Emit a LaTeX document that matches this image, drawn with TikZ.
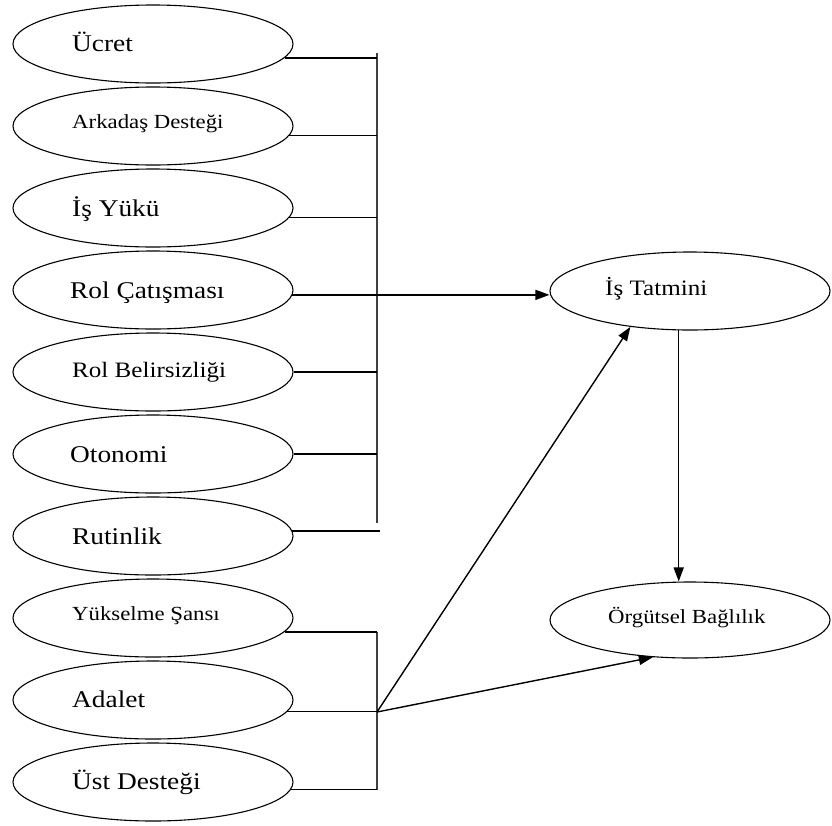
\documentclass[tikz,border=0pt]{standalone}
\usepackage{fontspec}
\newfontfamily\tf[FakeStretch=1.14]{Liberation Serif}
\usetikzlibrary{shapes.geometric,arrows.meta}
\begin{document}
\begin{tikzpicture}[x=1pt,y=-1pt,
  oval/.style={draw=black,line width=1.1pt,ellipse,minimum width=280pt,minimum height=78pt,inner sep=0pt},
  lbl/.style={anchor=base west,inner sep=0pt,font=\tf},
  bigt/.style={lbl,font=\tf\fontsize{24}{28}\selectfont},
  midt/.style={lbl,font=\tf\fontsize{22}{26}\selectfont},
  smallt/.style={lbl,font=\tf\fontsize{20}{24}\selectfont},
  conn/.style={draw=black,line width=1.4pt},
  bar/.style={draw=black!75,line width=1.1pt},
  arr/.style={conn,-{Triangle[length=14pt,width=10pt]}}]
\useasboundingbox (0,0) rectangle (832,825);
% left ellipses
\node[oval] (e1) at (153,44) {};
\node[oval] (e2) at (153,126) {};
\node[oval] (e3) at (153,208) {};
\node[oval] (e4) at (153,290) {};
\node[oval] (e5) at (153,372) {};
\node[oval] (e6) at (153,454) {};
\node[oval] (e7) at (153,536) {};
\node[oval] (e8) at (153,618) {};
\node[oval] (e9) at (153,700) {};
\node[oval] (e10) at (153,782) {};
% right ellipses
\node[oval] (ist) at (690,291) {};
\node[oval,minimum height=76pt] (ob) at (690,620) {};
% texts
\node[bigt] (t1) at (72,51) {Ücret};
\node[smallt] (t2) at (72,128) {Arkadaş Desteği};
\node[bigt] (t3) at (72,216) {İş Yükü};
\node[bigt] (t4) at (70,298) {Rol Çatışması};
\node[midt] (t5) at (72,377) {Rol Belirsizliği};
\node[bigt] (t6) at (70,462) {Otonomi};
\node[bigt] (t7) at (72,544) {Rutinlik};
\node[smallt] (t8) at (72,620) {Yükselme Şansı};
\node[bigt] (t9) at (72,707) {Adalet};
\node[bigt] (t10) at (72,789) {Üst Desteği};
\node[midt] (t11) at (605,295) {İş Tatmini};
\node[smallt] (t12) at (608,623) {Örgütsel Bağlılık};
% bars
\coordinate (bt) at (377,53);
\coordinate (bb) at (377,523);
\coordinate (lt) at (377,632);
\coordinate (lb) at (377,790);
\coordinate (J) at (377,712);
\draw[bar] (bt) -- (bb);
\draw[bar] (lt) -- (lb);
% upper connectors
\draw[conn] (e1.-6.1) -- (e1.-6.1 -| bt);
\draw[conn] (e2.-4.7) -- (e2.-4.7 -| bt);
\draw[conn] (e3.-4.2) -- (e3.-4.2 -| bt);
\draw[conn] (e5.-0.8) -- (e5.-0.8 -| bt);
\draw[conn] (e6.0.8) -- (e6.0.8 -| bt);
\draw[conn] (e7.2.5) -- ([xshift=3pt]e7.2.5 -| bt);
\draw[arr] (e4.-2.5) -- (e4.-2.5 -| ist.west);
% lower connectors
\draw[conn] (e8.-6.1) -- (e8.-6.1 -| lt);
\draw[conn] (e9.-5) -- (e9.-5 -| lt);
\draw[conn] (e10.-3.4) -- (e10.-3.4 -| lt);
\draw[arr] (J) -- (ist.211);
\draw[arr] (J) -- (ob.225);
\draw[arr] (ist.254) -- (ist.254 |- ob.north);
\end{tikzpicture}
\end{document}
